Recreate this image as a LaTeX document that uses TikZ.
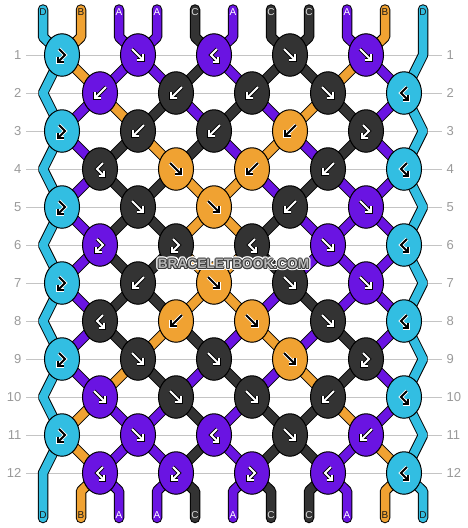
\documentclass[tikz,border=0pt]{standalone}
\usepackage{fontspec}
\setmainfont{Liberation Sans}
\usetikzlibrary{shapes.geometric}
\pgfdeclarelayer{gridlayer}
\pgfdeclarelayer{strandlayer}
\pgfdeclarelayer{toplayer}
\pgfsetlayers{gridlayer,strandlayer,main,toplayer}
\definecolor{cA}{HTML}{6A14E2}
\definecolor{cB}{HTML}{F0A232}
\definecolor{cC}{HTML}{333333}
\definecolor{cD}{HTML}{32BEE2}
\definecolor{tA}{HTML}{FFFFFF}
\definecolor{tB}{HTML}{1A1A1A}
\definecolor{tC}{HTML}{DDDDDD}
\definecolor{tD}{HTML}{1A1A1A}
\definecolor{gridc}{HTML}{C4C4C4}
\definecolor{numc}{HTML}{9A9A9A}
\definecolor{wmdark}{HTML}{3A3A3A}
\definecolor{wmfill}{HTML}{B8B8B8}
\tikzset{
  knotnode/.style={ellipse, draw=black, line width=1pt, minimum width=35pt, minimum height=42.5pt, inner sep=0pt, outer sep=0pt},
  strand0/.style={draw=black, line width=10.5pt},
  strand1/.style={line width=8.5pt},
  stubline/.style={line cap=round, line join=bevel},
  gridline/.style={draw=gridc, line width=1pt},
  rownum/.style={text=numc, font=\fontsize{13}{13}\selectfont, inner sep=0pt},
  strlbl/.style={font=\fontsize{10}{10}\selectfont, inner sep=0pt},
  wm/.style={font=\fontsize{13.7}{14}\selectfont\bfseries, inner sep=0pt},
  glyphdark/.style={go/.style={draw=white, line width=3.6pt, line join=miter},
                    gi/.style={draw=black, line width=2pt, line join=miter}},
  glyphlight/.style={go/.style={draw=black, line width=3.6pt, line join=miter},
                     gi/.style={draw=white, line width=2pt, line join=miter}},
  glyphD/.style={glyphdark}, glyphB/.style={glyphdark},
  glyphA/.style={glyphlight}, glyphC/.style={glyphlight},
  pics/arrf/.style={code={
    \draw[go] (-6,-6) -- (4,4); \draw[go] (-1,5) -- (5,5) -- (5,-1);
    \draw[gi] (-6,-6) -- (4,4); \draw[gi] (-1,5) -- (5,5) -- (5,-1);}},
  pics/arrb/.style={code={
    \draw[go] (6,-6) -- (-4,4); \draw[go] (1,5) -- (-5,5) -- (-5,-1);
    \draw[gi] (6,-6) -- (-4,4); \draw[gi] (1,5) -- (-5,5) -- (-5,-1);}},
  pics/arrfb/.style={code={
    \draw[go] (-3,-6) -- (3,0) -- (-3.5,6.5); \draw[go] (-4,1.5) -- (-4,7) -- (1.5,7);
    \draw[gi] (-3,-6) -- (3,0) -- (-3.5,6.5); \draw[gi] (-4,1.5) -- (-4,7) -- (1.5,7);}},
  pics/arrbf/.style={code={
    \draw[go] (3,-6) -- (-3,0) -- (3.5,6.5); \draw[go] (4,1.5) -- (4,7) -- (-1.5,7);
    \draw[gi] (3,-6) -- (-3,0) -- (3.5,6.5); \draw[gi] (4,1.5) -- (4,7) -- (-1.5,7);}},
}
\begin{document}
\begin{tikzpicture}[x=1pt,y=-1pt]
\useasboundingbox (0,0) rectangle (468,528);
\begin{pgfonlayer}{gridlayer}
\fill[white] (0,0) rectangle (468,528);
\foreach \rw in {1,...,12}{
  \pgfmathtruncatemacro\ry{55+38*(\rw-1)}
  \draw[gridline] (26,\ry) -- (442,\ry);
}
\end{pgfonlayer}
% row numbers
\foreach \rw in {1,...,12}{
  \pgfmathtruncatemacro\ry{55+38*(\rw-1)}
  \node[rownum, anchor=east] (ln-\rw) at (21.5,\ry) {\rw};
  \node[rownum, anchor=west] (rn-\rw) at (446.5,\ry) {\rw};
}
% knots
\foreach \rw/\row in {
 1/{D/fb,A/f,A/bf,C/f,A/f},
 2/{A/b,C/b,C/b,C/f,D/bf},
 3/{D/fb,C/b,C/b,B/b,C/fb},
 4/{C/bf,B/f,B/b,C/b,D/bf},
 5/{D/fb,C/f,B/f,C/b,A/f},
 6/{A/fb,C/fb,C/bf,A/f,D/bf},
 7/{D/fb,C/b,B/f,C/f,A/f},
 8/{C/bf,B/b,B/f,C/f,D/bf},
 9/{D/fb,C/f,C/f,B/f,C/fb},
 10/{A/f,C/f,C/f,C/b,D/bf},
 11/{D/fb,A/f,A/bf,C/f,A/b},
 12/{A/bf,A/fb,A/fb,A/bf,D/bf}}{
  \pgfmathtruncatemacro\ky{55+38*(\rw-1)}
  \foreach \kc/\kt [count=\kk from 0] in \row {
    \pgfmathtruncatemacro\kx{ifthenelse(isodd(\rw),62,100)+76*\kk}
    \node[knotnode, fill=c\kc] (k-\rw-\kk) at (\kx,\ky) {};
    \pic[glyph\kc] at (k-\rw-\kk) {arr\kt};
  }
}
% string labels and ends
\foreach \lt [count=\p from 0] in {D,B,A,A,C,A,C,C,A,B,D}{
  \pgfmathtruncatemacro\lx{43+38*\p}
  \coordinate (te-\p) at (\lx,9.5);
  \coordinate (be-\p) at (\lx,518);
  \node[strlbl, text=t\lt] (tl-\p) at (\lx,12.5) {\lt};
  \node[strlbl, text=t\lt] (bl-\p) at (\lx,515.5) {\lt};
}
% edge turning points
\foreach \rw in {2,4,...,12}{
  \pgfmathtruncatemacro\ry{55+38*(\rw-1)}
  \coordinate (zl-\rw) at (43,\ry);
}
\foreach \rw in {1,3,...,11}{
  \pgfmathtruncatemacro\ry{55+38*(\rw-1)}
  \coordinate (zr-\rw) at (423,\ry);
}
\begin{pgfonlayer}{strandlayer}
\foreach \pass in {0,1}{
  \foreach \rw/\cols in {
   1/{B,A,A,C,A,C,C,B,A},
   2/{A,B,C,A,C,A,B,C,A},
   3/{A,C,B,C,A,B,A,C,A},
   4/{A,C,C,B,B,A,C,A,A},
   5/{A,C,C,B,B,C,A,A,A},
   6/{A,C,C,B,B,C,A,A,A},
   7/{A,C,C,B,B,A,C,A,A},
   8/{A,C,B,C,A,B,A,C,A},
   9/{A,B,C,A,C,A,B,C,A},
   10/{B,A,A,C,A,C,C,B,A},
   11/{B,A,A,C,A,C,C,A,B}}{
    \pgfmathtruncatemacro\rn{\rw+1}
    \foreach \sc [count=\p] in \cols {
      \pgfmathtruncatemacro\ka{ifthenelse(isodd(\rw),floor(\p/2),floor((\p-1)/2))}
      \pgfmathtruncatemacro\kb{ifthenelse(isodd(\rn),floor(\p/2),floor((\p-1)/2))}
      \draw[draw=c\sc, strand\pass] (k-\rw-\ka.center) -- (k-\rn-\kb.center);
    }
  }
  \foreach \sc [count=\p] in {B,A,A,C,A,C,C,A,B}{
    \pgfmathtruncatemacro\ka{floor(\p/2)}
    \pgfmathtruncatemacro\kb{floor((\p-1)/2)}
    \draw[draw=c\sc, strand\pass, stubline] (te-\p) -- ++(0,27.5) -- (k-1-\ka.center);
    \draw[draw=c\sc, strand\pass, stubline] (be-\p) -- ++(0,-27) -- (k-12-\kb.center);
  }
  \draw[draw=cD, strand\pass, stubline] (te-0) -- ++(0,27.5) -- (k-1-0.center)
    -- (zl-2) -- (k-3-0.center) -- (zl-4) -- (k-5-0.center) -- (zl-6)
    -- (k-7-0.center) -- (zl-8) -- (k-9-0.center) -- (zl-10) -- (k-11-0.center)
    -- (zl-12) -- (be-0);
  \draw[draw=cD, strand\pass, stubline] (te-10) -- (zr-1) -- (k-2-4.center)
    -- (zr-3) -- (k-4-4.center) -- (zr-5) -- (k-6-4.center) -- (zr-7)
    -- (k-8-4.center) -- (zr-9) -- (k-10-4.center) -- (zr-11) -- (k-12-4.center)
    -- ++(19,18) -- (be-10);
}
\end{pgfonlayer}
\begin{pgfonlayer}{toplayer}
\foreach \a in {0,30,...,330}
  \node[wm, text=white, shift={(\a:2.2)}] (wmh-\a) at (233.5,264) {BRACELETBOOK.COM};
\foreach \a in {0,45,...,315}
  \node[wm, text=wmdark, shift={(\a:1)}] (wmo-\a) at (233.5,264) {BRACELETBOOK.COM};
\node[wm, text=wmfill] (wm) at (233.5,264) {BRACELETBOOK.COM};
\end{pgfonlayer}
\end{tikzpicture}
\end{document}
